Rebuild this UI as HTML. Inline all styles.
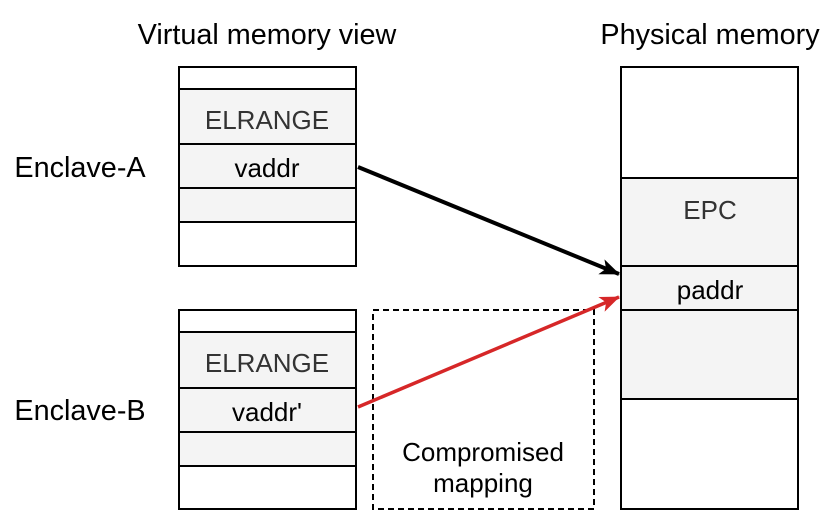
<!DOCTYPE html>
<html><head><style>body{margin:0;background:#fff}</style></head><body>
<svg width="830" height="514" viewBox="0 0 830 514" xmlns="http://www.w3.org/2000/svg" font-family="Liberation Sans, Arial, sans-serif">
<defs>
<marker id="ab" markerWidth="20" markerHeight="16" refX="19" refY="8" orient="auto" markerUnits="userSpaceOnUse" viewBox="0 0 20 16"><path d="M0,0 L20,8 L0,16 L5,8z" fill="#000"/></marker>
<marker id="ar" markerWidth="20" markerHeight="16" refX="19" refY="8" orient="auto" markerUnits="userSpaceOnUse" viewBox="0 0 20 16"><path d="M0,0 L20,8 L0,16 L5,8z" fill="#d62728"/></marker>
</defs>
<g stroke="#000" stroke-width="2">
<rect x="179" y="67" width="177" height="22" fill="#fff"/>
<rect x="179" y="89" width="177" height="55" fill="#f4f4f4"/>
<rect x="179" y="144" width="177" height="44" fill="#f4f4f4"/>
<rect x="179" y="188" width="177" height="34" fill="#f4f4f4"/>
<rect x="179" y="222" width="177" height="44" fill="#fff"/>
<rect x="179" y="310" width="177" height="22" fill="#fff"/>
<rect x="179" y="332" width="177" height="56" fill="#f4f4f4"/>
<rect x="179" y="388" width="177" height="44" fill="#f4f4f4"/>
<rect x="179" y="432" width="177" height="34" fill="#f4f4f4"/>
<rect x="179" y="466" width="177" height="43" fill="#fff"/>
<rect x="621" y="67" width="177" height="111" fill="#fff"/>
<rect x="621" y="178" width="177" height="88" fill="#f4f4f4"/>
<rect x="621" y="266" width="177" height="44" fill="#f4f4f4"/>
<rect x="621" y="310" width="177" height="89" fill="#f4f4f4"/>
<rect x="621" y="399" width="177" height="110" fill="#fff"/>
<rect x="373" y="310" width="221" height="199" fill="none" stroke-dasharray="6,4"/>
</g>
<line x1="358" y1="167" x2="619" y2="274" stroke="#000" stroke-width="4" marker-end="url(#ab)"/>
<line x1="358" y1="407" x2="619" y2="297" stroke="#d62728" stroke-width="3.5" marker-end="url(#ar)"/>
<g font-size="28.8" text-anchor="middle">
<text x="267" y="44">Virtual memory view</text>
<text x="710" y="44">Physical memory</text>
<text x="80" y="177">Enclave-A</text>
<text x="80" y="420">Enclave-B</text>
</g>
<g font-size="26" text-anchor="middle">
<text x="267" y="129" fill="#333">ELRANGE</text>
<text x="267" y="177">vaddr</text>
<text x="267" y="372" fill="#333">ELRANGE</text>
<text x="267" y="421">vaddr'</text>
<text x="710" y="219" fill="#333">EPC</text>
<text x="710" y="299">paddr</text>
<text x="483" y="461">Compromised</text>
<text x="483" y="492">mapping</text>
</g>
</svg>
</body></html>
